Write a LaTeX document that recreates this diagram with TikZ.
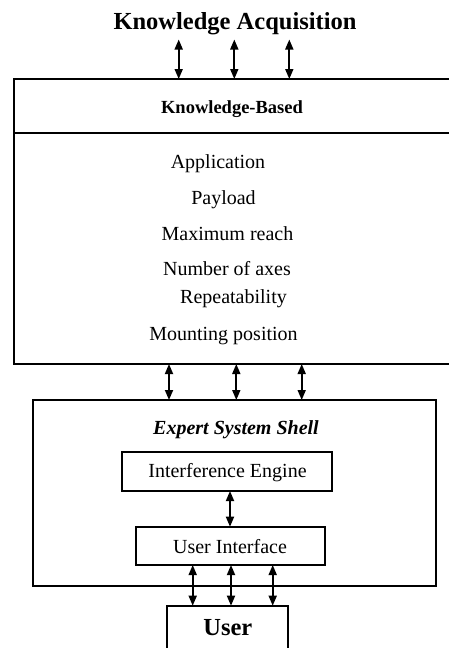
\documentclass[tikz,border=0pt]{standalone}
\usepackage{fontspec}
\setmainfont{Liberation Serif}
\usetikzlibrary{arrows.meta}
\begin{document}
\begin{tikzpicture}[x=1pt,y=-1pt,
  box/.style={draw, line width=1.7pt, inner sep=0pt, outer sep=0pt},
  txt/.style={anchor=base, inner sep=0pt, font=\fontsize{20}{24}\selectfont},
  biarrow/.style={{Triangle[length=10pt,width=8pt]}-{Triangle[length=10pt,width=8pt]}, line width=1.7pt}]
\useasboundingbox (0,0) rectangle (448,648);
% title
\node[txt, font=\fontsize{24.5}{28}\selectfont\bfseries] (ka) at (235,29.3) {Knowledge Acquisition};
\coordinate (kabot) at (233,39.5);
% knowledge based box
\node[box, minimum width=437pt, minimum height=285pt] (kb) at (232.5,221.5) {};
\draw[line width=1.7pt] (kb.west |- 0,132.7) -- (kb.east |- 0,132.7);
\node[txt, font=\fontsize{18.5}{22}\selectfont\bfseries] (kbt) at (232,113.3) {Knowledge-Based};
\node[txt] (i1) at (218,168) {Application};
\node[txt] (i2) at (223.5,204) {Payload};
\node[txt] (i3) at (227.5,240) {Maximum reach};
\node[txt] (i4) at (227,275) {Number of axes};
\node[txt] (i5) at (233.5,303.3) {Repeatability};
\node[txt] (i6) at (223.5,340) {Mounting position};
% expert system shell
\node[box, minimum width=403pt, minimum height=185.7pt] (ess) at (234.2,492.85) {};
\node[txt, font=\fontsize{20}{24}\selectfont\bfseries\itshape] (esst) at (236,434.3) {Expert System Shell};
\node[box, minimum width=210.6pt, minimum height=39.3pt] (ie) at (227,471.35) {};
\node[txt] (iet) at (227.5,477.3) {Interference Engine};
\node[box, minimum width=189.3pt, minimum height=38.3pt] (ui) at (230.35,545.85) {};
\node[txt] (uit) at (230,553.3) {User Interface};
% user
\node[box, minimum width=121.6pt, minimum height=46.3pt] (us) at (227.5,628.85) {};
\node[txt, font=\fontsize{24.5}{28}\selectfont\bfseries] (ust) at (227.8,635.7) {User};
% arrows
\foreach \xx in {178.7,234.3,289.3} \draw[biarrow] (kabot -| \xx,0) -- (kb.north -| \xx,0);
\foreach \xx in {169,236.3,301.7} \draw[biarrow] (kb.south -| \xx,0) -- (ess.north -| \xx,0);
\draw[biarrow] (ie.south -| 230,0) -- (ui.north -| 230,0);
\foreach \xx in {192.7,231,272.7} \draw[biarrow] (ui.south -| \xx,0) -- (us.north -| \xx,0);
\end{tikzpicture}
\end{document}
